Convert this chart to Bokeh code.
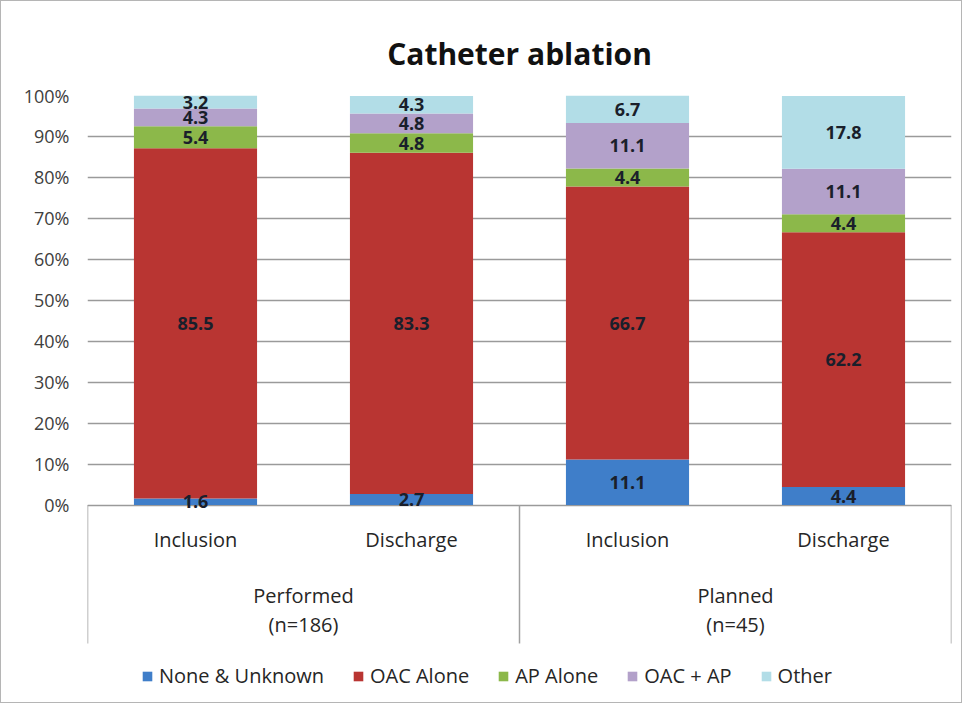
from bokeh.plotting import figure
from bokeh.models import (FactorRange, Range1d, FixedTicker, PrintfTickFormatter,
                          ColumnDataSource, Legend, LegendItem, Title)
from bokeh.core.properties import value
from bokeh.embed import file_html
from bokeh.resources import INLINE

# ---- data ----
factors = ["Performed Inclusion", "Performed Discharge", "Planned Inclusion", "Planned Discharge"]
sub_labels = ["Inclusion", "Discharge", "Inclusion", "Discharge"]
group_names = ["Performed", "Planned"]
group_ns = ["(n=186)", "(n=45)"]
series = ["None & Unknown", "OAC Alone", "AP Alone", "OAC + AP", "Other"]
none_unknown = [1.6, 2.7, 11.1, 4.4]
oac_alone = [85.5, 83.3, 66.7, 62.2]
ap_alone = [5.4, 4.8, 4.4, 4.4]
oac_ap = [4.3, 4.8, 11.1, 11.1]
other = [3.2, 4.3, 6.7, 17.8]
y_ticks = [0, 10, 20, 30, 40, 50, 60, 70, 80, 90, 100]

colors = ["#3f7ec9", "#b93532", "#8cb84a", "#b3a1ca", "#b2dde7"]
FONT = "Open Sans"

data = {"x": factors}
cols = ["s0", "s1", "s2", "s3", "s4"]
vals = [none_unknown, oac_alone, ap_alone, oac_ap, other]
for c, v in zip(cols, vals):
    data[c] = v
src = ColumnDataSource(data)

y_bottom = -48.7
p = figure(x_range=FactorRange(factors=factors, range_padding=0),
           y_range=Range1d(y_bottom, 100),
           width=962, height=703, output_backend="svg", toolbar_location=None,
           min_border_left=86, min_border_right=12, min_border_top=94, min_border_bottom=0)
p.styles = {"border": "1px solid #b5b5b5"}
p.outline_line_color = None
p.background_fill_color = "white"

p.add_layout(Title(text="Catheter ablation", align="center", vertical_align="top",
                   text_font=FONT, text_font_size="30px", text_font_style="bold",
                   text_color="#111111", standoff=40, padding=0, text_line_height=0.8),
             "above")

renderers = p.vbar_stack(cols, x="x", width=0.57, source=src, color=colors,
                         line_color=None)

# segment labels
lx, ly, lt = [], [], []
for i, f in enumerate(factors):
    base = 0.0
    for v in vals:
        lx.append(f)
        ly.append(base + v[i] / 2.0)
        lt.append(f"{v[i]:.1f}")
        base += v[i]
p.text(x=lx, y=ly, text=lt, text_align="center", text_baseline="middle",
       text_font=value(FONT), text_font_size="18px", text_font_style="bold",
       text_color="#1a1f2b")

# y axis
p.yaxis.ticker = FixedTicker(ticks=y_ticks)
p.yaxis.formatter = PrintfTickFormatter(format="%d%%")
p.yaxis.axis_line_color = None
p.yaxis.major_tick_line_color = None
p.yaxis.minor_tick_line_color = None
p.yaxis.major_label_standoff = 12
p.yaxis.major_label_text_font = FONT
p.yaxis.major_label_text_font_size = "18px"
p.yaxis.major_label_text_color = "#404040"
p.ygrid.grid_line_color = "#9a9a9a"
p.ygrid.grid_line_width = 1.5
p.xgrid.grid_line_color = None
p.xaxis.visible = False

# category axis drawn below zero
sep_bottom = -33.8
sep_x = [(factors[0], -0.5), (factors[2], -0.5), (factors[3], 0.5)]
p.segment(x0=sep_x, y0=[0] * 3, x1=sep_x, y1=[sep_bottom] * 3,
          line_color="#a0a0a0", line_width=1.5)
p.text(x=factors, y=[-8.5] * 4, text=sub_labels, text_align="center",
       text_baseline="middle", text_font=value(FONT), text_font_size="20px",
       text_color="#262626")
gx = [(factors[0], 0.5), (factors[2], 0.5)]
p.text(x=gx, y=[-22.2] * 2, text=group_names, text_align="center",
       text_baseline="middle", text_font=value(FONT), text_font_size="20px",
       text_color="#262626")
p.text(x=gx, y=[-29.1] * 2, text=group_ns, text_align="center",
       text_baseline="middle", text_font=value(FONT), text_font_size="20px",
       text_color="#262626")

legend = Legend(items=[LegendItem(label=s, renderers=[r]) for s, r in zip(series, renderers)],
                orientation="horizontal", location=(54, 15), padding=0, margin=0,
                spacing=28, label_standoff=6, glyph_width=12, glyph_height=12,
                label_text_font=FONT, label_text_font_size="20px",
                label_text_color="#262626", border_line_color=None,
                background_fill_alpha=0)
p.add_layout(legend, "center")

open("out.html", "w").write(file_html(p, INLINE))
